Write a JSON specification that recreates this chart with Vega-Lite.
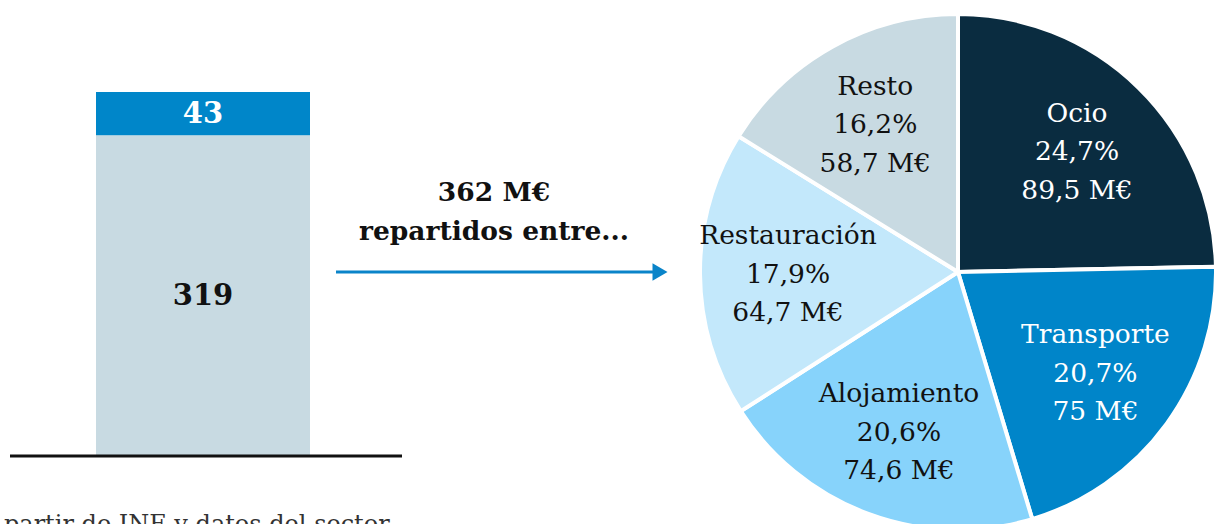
{
  "$schema": "https://vega.github.io/schema/vega-lite/v6.json",
  "width": 1214,
  "height": 524,
  "autosize": "none",
  "padding": 0,
  "config": {"view": {"stroke": null}, "font": "DejaVu Serif"},
  "resolve": {"scale": {"color": "independent"}},
  "layer": [
    {
      "data": {"values": [
        {"tramo": "Base", "valor": 319, "orden": 1},
        {"tramo": "Incremento", "valor": 43, "orden": 2}
      ]},
      "transform": [
        {"stack": "valor", "groupby": [], "sort": [{"field": "orden"}], "as": ["v0", "v1"]}
      ],
      "mark": {"type": "bar"},
      "encoding": {
        "x": {"datum": 96, "type": "quantitative", "scale": {"domain": [0, 1214], "nice": false, "zero": false}, "axis": null},
        "x2": {"datum": 310},
        "y": {"field": "v0", "type": "quantitative", "scale": {"domain": [-67.6, 453.5], "nice": false, "zero": false}, "axis": null},
        "y2": {"field": "v1"},
        "color": {"field": "tramo", "type": "nominal", "scale": {"domain": ["Base", "Incremento"], "range": ["#c8dae2", "#0086c9"]}, "legend": null}
      }
    },
    {
      "data": {"values": [
        {"tramo": "Base", "valor": 319, "orden": 1},
        {"tramo": "Incremento", "valor": 43, "orden": 2}
      ]},
      "mark": {"type": "text", "fontSize": 29, "fontWeight": "bold", "baseline": "middle", "align": "center"},
      "encoding": {
        "x": {"datum": 203, "type": "quantitative", "scale": {"domain": [0, 1214], "nice": false, "zero": false}, "axis": null},
        "y": {"field": "valor", "type": "quantitative", "stack": "zero", "bandPosition": 0.5, "scale": {"domain": [-67.6, 453.5], "nice": false, "zero": false}, "axis": null},
        "detail": {"field": "tramo", "type": "nominal"},
        "order": {"field": "orden"},
        "text": {"field": "valor", "type": "quantitative", "format": "d"},
        "color": {"condition": {"test": "datum.tramo === 'Incremento'", "value": "#ffffff"}, "value": "#111111"}
      }
    },
    {
      "data": {"values": [{}]},
      "mark": {"type": "rule", "color": "#111111", "strokeWidth": 3},
      "encoding": {
        "x": {"datum": 10, "type": "quantitative", "scale": {"domain": [0, 1214], "nice": false, "zero": false}, "axis": null},
        "x2": {"datum": 402},
        "y": {"datum": 0, "type": "quantitative", "scale": {"domain": [-67.6, 453.5], "nice": false, "zero": false}, "axis": null}
      }
    },
    {
      "data": {"values": [{}]},
      "mark": {"type": "rule", "color": "#0a84c9", "strokeWidth": 3},
      "encoding": {
        "x": {"datum": 336, "type": "quantitative", "scale": {"domain": [0, 1214], "nice": false, "zero": false}, "axis": null},
        "x2": {"datum": 656},
        "y": {"datum": 183, "type": "quantitative", "scale": {"domain": [-67.6, 453.5], "nice": false, "zero": false}, "axis": null}
      }
    },
    {
      "data": {"values": [{}]},
      "mark": {"type": "point", "shape": "triangle-right", "filled": true, "color": "#0a84c9", "opacity": 1, "size": 300},
      "encoding": {
        "x": {"datum": 660, "type": "quantitative", "scale": {"domain": [0, 1214], "nice": false, "zero": false}, "axis": null},
        "y": {"datum": 183, "type": "quantitative", "scale": {"domain": [-67.6, 453.5], "nice": false, "zero": false}, "axis": null}
      }
    },
    {
      "data": {"values": [{"texto": "362 M€\nrepartidos entre..."}]},
      "mark": {"type": "text", "fontSize": 26.5, "fontWeight": "bold", "lineBreak": "\n", "lineHeight": 39, "baseline": "middle", "align": "center", "color": "#111111"},
      "encoding": {
        "x": {"datum": 494, "type": "quantitative", "scale": {"domain": [0, 1214], "nice": false, "zero": false}, "axis": null},
        "y": {"datum": 261.6, "type": "quantitative", "scale": {"domain": [-67.6, 453.5], "nice": false, "zero": false}, "axis": null},
        "text": {"field": "texto", "type": "nominal"}
      }
    },
    {
      "data": {"values": [
        {"categoria": "Ocio", "pct": 24.7, "importe": 89.5, "orden": 1, "etiqueta": "Ocio\n24,7%\n89,5 M€"},
        {"categoria": "Transporte", "pct": 20.7, "importe": 75, "orden": 2, "etiqueta": "Transporte\n20,7%\n75 M€"},
        {"categoria": "Alojamiento", "pct": 20.6, "importe": 74.6, "orden": 3, "etiqueta": "Alojamiento\n20,6%\n74,6 M€"},
        {"categoria": "Restauración", "pct": 17.9, "importe": 64.7, "orden": 4, "etiqueta": "Restauración\n17,9%\n64,7 M€"},
        {"categoria": "Resto", "pct": 16.2, "importe": 58.7, "orden": 5, "etiqueta": "Resto\n16,2%\n58,7 M€"}
      ]},
      "encoding": {
        "theta": {"field": "pct", "type": "quantitative", "stack": true},
        "order": {"field": "orden"},
        "x": {"datum": 958, "type": "quantitative", "scale": {"domain": [0, 1214], "nice": false, "zero": false}, "axis": null},
        "y": {"datum": 183, "type": "quantitative", "scale": {"domain": [-67.6, 453.5], "nice": false, "zero": false}, "axis": null}
      },
      "layer": [
        {
          "mark": {"type": "arc", "radius": 258, "stroke": "#ffffff", "strokeWidth": 4},
          "encoding": {
            "color": {"field": "categoria", "type": "nominal", "scale": {"domain": ["Ocio", "Transporte", "Alojamiento", "Restauración", "Resto"], "range": ["#0a2c40", "#0085c9", "#87d3fb", "#c3e8fb", "#c8dae2"]}, "legend": null}
          }
        },
        {
          "mark": {"type": "text", "radius": 170, "dy": -37, "fontSize": 26.5, "lineBreak": "\n", "lineHeight": 38.5, "baseline": "middle", "align": "center"},
          "encoding": {
            "text": {"field": "etiqueta", "type": "nominal"},
            "color": {"condition": {"test": "datum.categoria === 'Ocio' || datum.categoria === 'Transporte'", "value": "#ffffff"}, "value": "#111111"}
          }
        }
      ]
    },
    {
      "data": {"values": [{"fuente": "Fuente: elaboración propia a partir de INE y datos del sector"}]},
      "mark": {"type": "text", "fontSize": 24, "align": "left", "baseline": "alphabetic", "color": "#333333"},
      "encoding": {
        "x": {"datum": -356, "type": "quantitative", "scale": {"domain": [0, 1214], "nice": false, "zero": false}, "axis": null},
        "y": {"datum": -75.6, "type": "quantitative", "scale": {"domain": [-67.6, 453.5], "nice": false, "zero": false}, "axis": null},
        "text": {"field": "fuente", "type": "nominal"}
      }
    }
  ]
}
